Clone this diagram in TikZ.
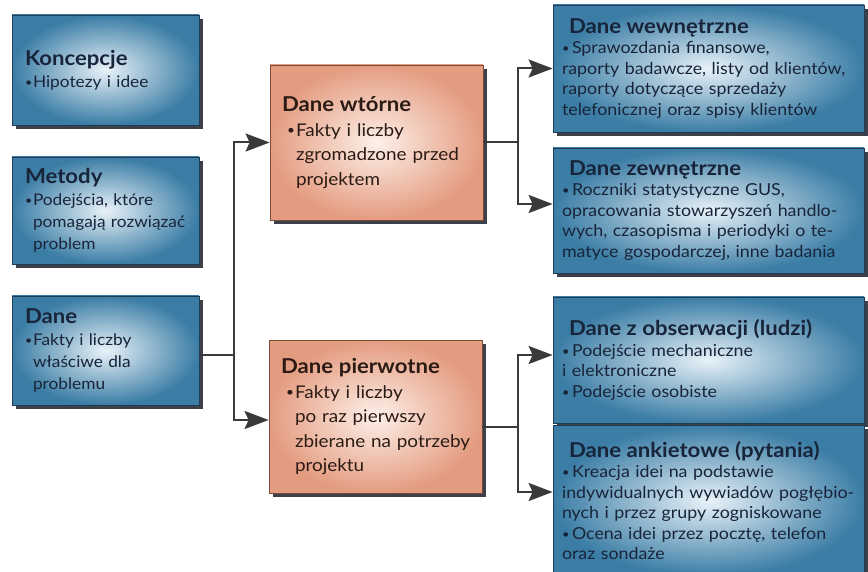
\documentclass[tikz,border=0pt]{standalone}
\usepackage{fontspec}
\setmainfont{Lato}[FakeStretch=1.08]
\usetikzlibrary{arrows.meta,shadows}

\definecolor{boxblue}{HTML}{3B7DA5}
\definecolor{boxbluein}{HTML}{E8F2F8}
\definecolor{boxblueline}{HTML}{1F3C57}
\definecolor{boxorange}{HTML}{E49C80}
\definecolor{boxorangein}{HTML}{FDF0E9}
\definecolor{boxorangeline}{HTML}{7A4A38}
\definecolor{bluetext}{HTML}{18243A}
\definecolor{browntext}{HTML}{2B1B14}
\definecolor{shadowgray}{HTML}{3D4049}
\definecolor{linkgray}{HTML}{3A3A3A}

\newcommand{\hd}[1]{{\bfseries\fontsize{20.5}{20}\selectfont #1}}
\newcommand{\bul}[1]{\makebox[#1][l]{\raisebox{1.2pt}{\scalebox{0.72}{\textbullet}}}}
\newcommand{\leftfont}{\fontsize{16}{22}\selectfont}
\newcommand{\midfont}{\fontsize{17.5}{24.5}\selectfont}
\newcommand{\rightfont}{\fontsize{16.5}{20.5}\selectfont}

\tikzset{
  panel/.style={rectangle, line width=0.8pt, inner sep=0pt, align=left,
    drop shadow={shadow xshift=4pt, shadow yshift=-4pt, fill=shadowgray, opacity=1}},
  bluebox/.style={panel, draw=boxblueline, shading=radial,
    inner color=boxbluein, outer color=boxblue, text=bluetext},
  orangebox/.style={panel, draw=boxorangeline, shading=radial,
    inner color=boxorangein, outer color=boxorange, text=browntext},
  leftbox/.style={bluebox, minimum width=187pt, text width=173pt, font=\leftfont},
  midbox/.style={orangebox, minimum width=213pt, text width=195pt, font=\midfont},
  rightbox/.style={bluebox, minimum width=311pt, text width=301pt, font=\rightfont},
  link/.style={draw=linkgray, line width=2pt},
  linkarrow/.style={link, -{Stealth[length=24pt,width=18pt,inset=4pt]}},
}

\begin{document}
\begin{tikzpicture}[x=1pt,y=-1pt]
    \useasboundingbox (0,0) rectangle (868,572);
    \clip (0,0) rectangle (868,572);

    % Left column
    \node[leftbox, minimum height=110pt] (konc) at (105.5,70)
        {\hspace*{6pt}\hd{Koncepcje}\\ \hspace*{6pt}\bul{8pt}Hipotezy i idee};
    \node[leftbox, minimum height=107pt] (metody) at (105.5,210.5)
        {\hspace*{6pt}\hd{Metody}\\ \hspace*{6pt}\bul{8pt}Podejścia, które\\ \hspace*{14pt}pomagają rozwiązać\\ \hspace*{14pt}problem};
    \node[leftbox, minimum height=109pt] (dane) at (105.5,350.5)
        {\hspace*{6pt}\hd{Dane}\\ \hspace*{6pt}\bul{8pt}Fakty i liczby\\ \hspace*{14pt}właściwe dla\\ \hspace*{14pt}problemu};

    % Secondary and primary data
    \node[midbox, minimum height=155pt] (wtorne) at (376.5,142.5)
        {\hspace*{3pt}\hd{Dane wtórne}\\ \hspace*{8pt}\bul{9pt}Fakty i liczby\\ \hspace*{17pt}zgromadzone przed\\ \hspace*{17pt}projektem};
    \node[midbox, minimum height=153pt] (pierw) at (375.5,416.5)
        {\hspace*{3pt}\hd{Dane pierwotne}\\ \hspace*{8pt}\bul{9pt}Fakty i liczby\\ \hspace*{17pt}po raz pierwszy\\ \hspace*{17pt}zbierane na potrzeby\\ \hspace*{17pt}projektu};

    % Right column
    \node[rightbox, minimum height=127pt] (wewn) at (708.5,68.5)
        {\hspace*{11pt}\hd{Dane wewnętrzne}\\ \hspace*{4pt}\bul{10pt}Sprawozdania finansowe,\\ \hspace*{4pt}raporty badawcze, listy od klientów,\\ \hspace*{4pt}raporty dotyczące sprzedaży\\ \hspace*{4pt}telefonicznej oraz spisy klientów};
    \node[rightbox, minimum height=125pt] (zewn) at (708.5,210.5)
        {\hspace*{11pt}\hd{Dane zewnętrzne}\\ \hspace*{4pt}\bul{10pt}Roczniki statystyczne GUS,\\ \hspace*{4pt}opracowania stowarzyszeń handlo-\\ \hspace*{4pt}wych, czasopisma i periodyki o te-\\ \hspace*{4pt}matyce gospodarczej, inne badania};
    \node[rightbox, minimum height=126pt] (obserw) at (708.5,360)
        {\hspace*{11pt}\hd{Dane z obserwacji (ludzi)}\\ \hspace*{4pt}\bul{10pt}Podejście mechaniczne\\ \hspace*{4pt}i elektroniczne\\ \hspace*{4pt}\bul{10pt}Podejście osobiste};
    \node[rightbox, minimum height=151pt] (ankiet) at (708.5,500.5)
        {\hspace*{11pt}\hd{Dane ankietowe (pytania)}\\ \hspace*{4pt}\bul{10pt}Kreacja idei na podstawie\\ \hspace*{4pt}indywidualnych wywiadów pogłębio-\\ \hspace*{4pt}nych i przez grupy zogniskowane\\ \hspace*{4pt}\bul{10pt}Ocena idei przez pocztę, telefon\\ \hspace*{4pt}oraz sondaże};

    % Connectors
    \draw[link] ([yshift=-4.5pt]dane.east) -- ++(35,0) coordinate (fork1);
    \draw[linkarrow] (fork1) |- (wtorne.west);
    \draw[linkarrow] (fork1) |- ([yshift=-3.5pt]pierw.west);
    \draw[link] (wtorne.east) -- ++(35,0) coordinate (fork2);
    \draw[linkarrow] (fork2) |- (wewn.west);
    \draw[linkarrow] (fork2) |- ([yshift=6.5pt]zewn.west);
    \draw[link] ([yshift=-10.5pt]pierw.east) -- ++(36,0) coordinate (fork3);
    \draw[linkarrow] (fork3) |- ([yshift=5pt]obserw.west);
    \draw[linkarrow] (fork3) |- ([yshift=8.5pt]ankiet.west);
\end{tikzpicture}
\end{document}
